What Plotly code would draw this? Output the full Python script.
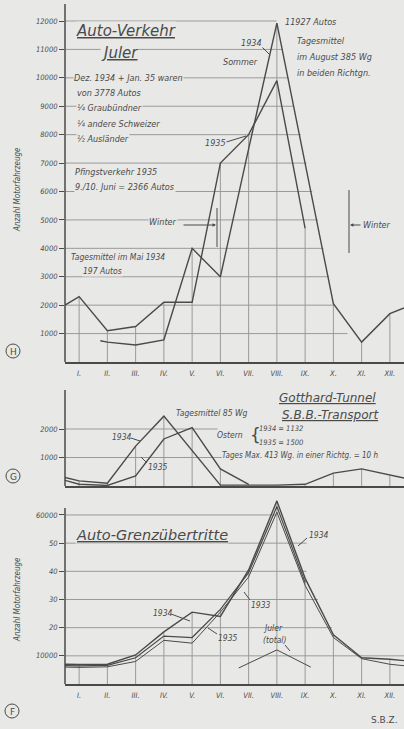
import plotly.graph_objects as go

W, H = 404, 729
BG = "#e8e8e6"
INK = "#4a4a4a"
GRID = "#9a9a9a"
FONT = "Liberation Sans Narrow, DejaVu Sans Condensed, Liberation Sans, sans-serif"
TFONT = "DejaVu Sans, sans-serif"

# ---------------- data ----------------
month_pos = list(range(1, 13))
month_labels = ["I.", "II.", "III.", "IV.", "V.", "VI.", "VII.", "VIII.", "IX.", "X.", "XI.", "XII."]

# Panel H: Auto-Verkehr Juler
h_ticks = [1000, 2000, 3000, 4000, 5000, 6000, 7000, 8000, 9000, 10000, 11000, 12000]
h_ticktext = ["1000", "2000", "3000", "4000", "5000", "6000", "7000", "8000", "9000", "10000", "11000", "12000"]
h_1935_x = [0.5, 1, 2, 3, 4, 5, 6, 7, 8, 9]
h_1935_y = [2000, 2300, 1100, 1250, 2100, 2100, 7000, 8000, 9900, 4700]
h_1934_x = [1.75, 2, 3, 4, 5, 6, 7, 8, 10, 11, 12, 12.5]
h_1934_y = [750, 700, 600, 780, 4000, 3000, 7500, 11927, 2050, 700, 1700, 1900]
h_grid_right = [10.5, 10.05, 9.85, 9.65, 9.45, 9.25, 9.05, 8.85, 8.6, 8.4, 8.2, 7.99]

# Panel G: Gotthard-Tunnel S.B.B.-Transport
g_ticks = [1000, 2000]
g_ticktext = ["1000", "2000"]
g_1934_x = [0.5, 1, 2, 3, 4, 5, 6, 7, 8, 9, 10, 11, 12, 12.5]
g_1934_y = [300, 180, 100, 1400, 2450, 1250, 30, 30, 30, 60, 450, 600, 380, 280]
g_1935_x = [0.5, 1, 2, 3, 4, 5, 6, 7]
g_1935_y = [200, 60, 20, 350, 1650, 2050, 600, 60]
g_grid_right = [6.05, 5.9]

# Panel F: Auto-Grenzübertritte
f_ticks = [10000, 20000, 30000, 40000, 50000, 60000]
f_ticktext = ["10000", "20", "30", "40", "50", "60000"]
f_1934_x = [0.5, 1, 2, 3, 4, 5, 6, 7, 8, 9, 10, 11, 12, 12.5]
f_1934_y = [7000, 6900, 7000, 10300, 18500, 25500, 24000, 40500, 65000, 37500, 17500, 9300, 8800, 8300]
f_1935_x = [0.5, 1, 2, 3, 4, 5, 6, 7, 8, 9]
f_1935_y = [6500, 6400, 6600, 9300, 17000, 16500, 26500, 39500, 63000, 36000]
f_1933_x = [0.5, 1, 2, 3, 4, 5, 6, 7, 8, 9, 10, 11, 12, 12.5]
f_1933_y = [6000, 5900, 6100, 8000, 15500, 14500, 25500, 38000, 61000, 35000, 16500, 9000, 7000, 6500]
f_juler_x = [6.65, 8, 9.2]
f_juler_y = [5700, 12100, 6000]
f_grid_right = [12.5, 9.95, 9.45, 9.05, 9.05, 8.0]

# ---------------- layout helpers ----------------
X0 = 65  # left axis pixel


def fx(px):
    return px / W


def fy(py):
    return 1 - py / H


fig = go.Figure()


def add_line(x, y, n, width=1.4, dash=None, color=INK):
    fig.add_trace(go.Scatter(x=x, y=y, xaxis="x" + n, yaxis="y" + n, mode="lines",
                             line=dict(color=color, width=width, dash=dash),
                             hoverinfo="skip", showlegend=False))


def drop_lines(series, n):
    xs, ys = [], []
    for m in month_pos:
        vals = [yv for sx, sy in series for xv, yv in zip(sx, sy) if xv == m]
        if vals:
            xs += [m, m, None]
            ys += [0, max(vals), None]
    fig.add_trace(go.Scatter(x=xs, y=ys, xaxis="x" + n, yaxis="y" + n, mode="lines",
                             line=dict(color=GRID, width=1), hoverinfo="skip", showlegend=False))


shapes = []
annotations = []


def grid(levels, rights, n):
    xr = "x" if n == "" else "x" + n
    yr = "y" if n == "" else "y" + n
    for lv, r in zip(levels, rights):
        shapes.append(dict(type="line", xref=xr, yref=yr, x0=0.5, x1=r, y0=lv, y1=lv,
                           layer="below", line=dict(color=GRID, width=1)))


def seg(x0, y0, x1, y1, width=1, color=INK):
    shapes.append(dict(type="line", xref="paper", yref="paper", x0=fx(x0), y0=fy(y0),
                       x1=fx(x1), y1=fy(y1), line=dict(color=color, width=width)))


def note(x, y, text, size=9, bg=False, family=FONT, angle=0, xanchor="left", italic=True):
    annotations.append(dict(x=fx(x), y=fy(y), xref="paper", yref="paper", text=text,
                            showarrow=False, xanchor=xanchor, yanchor="middle", textangle=angle,
                            font=dict(family=family, size=size, color=INK,
                                      style="italic" if italic else "normal"),
                            bgcolor=BG if bg else "rgba(0,0,0,0)", borderpad=0))


def arrow(x, y, x_from, size=0.7):
    annotations.append(dict(x=fx(x), y=fy(y), xref="paper", yref="paper", text="",
                            showarrow=True, ax=x_from - x, ay=0, arrowhead=2, arrowsize=size,
                            arrowwidth=1, arrowcolor=INK))


def circled(cx, cy, letter):
    r = 7
    shapes.append(dict(type="circle", xref="paper", yref="paper", x0=fx(cx - r), x1=fx(cx + r),
                       y0=fy(cy + r), y1=fy(cy - r), line=dict(color=INK, width=1)))
    note(cx, cy + 0.5, letter, size=9, family=TFONT, xanchor="center", italic=False)


# ---------------- traces ----------------
# H
drop_lines([(h_1935_x, h_1935_y), (h_1934_x, h_1934_y)], "")
add_line(h_1935_x, h_1935_y, "")
add_line(h_1934_x, h_1934_y, "")
grid(h_ticks, h_grid_right, "")

# G
drop_lines([(g_1934_x, g_1934_y), (g_1935_x, g_1935_y)], "2")
add_line(g_1934_x, g_1934_y, "2")
add_line(g_1935_x, g_1935_y, "2")
grid(g_ticks, g_grid_right, "2")

# F
drop_lines([(f_1934_x, f_1934_y), (f_1935_x, f_1935_y), (f_1933_x, f_1933_y)], "3")
add_line(f_1933_x, f_1933_y, "3", width=1.0)
add_line(f_1935_x, f_1935_y, "3", width=1.2)
add_line(f_1934_x, f_1934_y, "3", width=1.4)
add_line(f_juler_x, f_juler_y, "3", width=1.0)
grid(f_ticks, f_grid_right, "3")

# y-axis lines
seg(X0, 4, X0, 362, width=1.5)
seg(X0, 390, X0, 486, width=1.5)
seg(X0, 508, X0, 684, width=1.5)

# ---------------- annotations ----------------
# Panel H
note(75, 31, "<u>Auto-Verkehr</u>", size=15, family=TFONT, bg=True)
note(100, 53, "<u>Juler</u>", size=15, family=TFONT, bg=True)
note(73, 78, "Dez. 1934 + Jan. 35 waren", bg=True)
note(76, 93, "von 3778 Autos", bg=True)
note(76, 108, "¼ Graubündner", bg=True)
note(76, 124, "¼ andere Schweizer", bg=True)
note(76, 139, "½ Ausländer", bg=True)
note(74, 172, "Pfingstverkehr 1935", bg=True)
note(74, 187, "9./10. Juni = 2366 Autos", bg=True)
note(148, 222, "Winter", bg=True)
seg(217, 208, 217, 247)
arrow(216, 225, 182)
note(70, 257, "Tagesmittel im Mai 1934", size=8.5, bg=True)
note(82, 271, "197 Autos", size=8.5, bg=True)
note(284, 22, "11927 Autos")
note(296, 41, "Tagesmittel")
note(296, 57, "im August 385 Wg")
note(296, 73, "in beiden Richtgn.")
note(240, 43, "1934", bg=True)
seg(262, 47, 270, 55)
note(222, 62, "Sommer", bg=True)
note(204, 143, "1935", bg=True)
seg(223, 143, 246, 136)
seg(349, 190, 349, 253)
arrow(350, 225, 362)
note(362, 225, "Winter")
circled(13, 351, "H")
note(17, 190, "Anzahl Motorfahrzeuge", size=8, angle=-90, xanchor="center")

# Panel G
note(175, 413, "Tagesmittel 85 Wg", size=8.5)
note(278, 398, "<u>Gotthard-Tunnel</u>", size=12, family=TFONT)
note(281, 415, "<u>S.B.B.-Transport</u>", size=12, family=TFONT)
note(216, 435, "Ostern", size=8.5)
note(249, 435, "{", size=17, family=TFONT, italic=False)
note(258, 428, "1934 = 1132", size=7.5)
note(258, 442, "1935 = 1500", size=7.5)
note(221, 455, "Tages Max. 413 Wg. in einer Richtg. = 10 h", size=8)
note(111, 437, "1934", size=8.5)
seg(131, 438, 140, 441)
note(147, 467, "1935", size=8.5)
seg(147, 463, 141, 457)
circled(13, 476, "G")

# Panel F
note(75, 535, "<u>Auto-Grenzübertritte</u>", size=14.5, family=TFONT, bg=True)
note(152, 613, "1934", size=8.5)
seg(171, 614, 190, 621)
note(217, 638, "1935", size=8.5)
seg(217, 634, 208, 628)
note(250, 605, "1933", size=8.5)
seg(250, 600, 244, 592)
note(308, 535, "1934", size=8.5)
seg(307, 538, 298, 546)
note(262, 628, "Juler", size=8.5)
note(262, 640, "(total)", size=8.5)
seg(285, 645, 290, 651)
circled(12, 711, "F")
note(17, 600, "Anzahl Motorfahrzeuge", size=8, angle=-90, xanchor="center")
note(370, 720, "S.B.Z.", size=9, family=TFONT, italic=False)

# ---------------- axes ----------------
xdom = [fx(X0), 1.0]
tickfont = dict(family=FONT, size=7.5, color=INK, style="italic")


def xaxis(anchor, labels):
    return dict(domain=xdom, range=[0.5, 12.5], anchor=anchor, showgrid=False, zeroline=False,
                showline=True, linecolor=INK, linewidth=2,
                tickvals=month_pos, ticktext=month_labels, showticklabels=labels,
                ticks="", ticklabelstandoff=3, tickfont=tickfont, fixedrange=True)


def yaxis(anchor, dom, rng, tv, tt):
    return dict(domain=dom, range=rng, anchor=anchor, showgrid=False, zeroline=False,
                showline=False, tickvals=tv, ticktext=tt, ticks="outside", ticklen=5,
                tickcolor=INK, tickwidth=1, tickfont=tickfont, fixedrange=True)


fig.update_layout(
    width=W, height=H, margin=dict(l=0, r=0, t=0, b=0),
    paper_bgcolor=BG, plot_bgcolor=BG, showlegend=False,
    xaxis=xaxis("y", True),
    yaxis=yaxis("x", [fy(362), fy(4)], [0, 358 / 28.417 * 1000], h_ticks, h_ticktext),
    xaxis2=xaxis("y2", False),
    yaxis2=yaxis("x2", [fy(486), fy(390)], [0, 96 / 28.5 * 1000], g_ticks, g_ticktext),
    xaxis3=xaxis("y3", True),
    yaxis3=yaxis("x3", [fy(684), fy(497)], [0, 187 / 28.17 * 10000], f_ticks, f_ticktext),
    shapes=shapes, annotations=annotations,
)

fig.write_html(
    "out.html",
    config={"displayModeBar": False},
    post_script="document.body.style.margin='0px';document.body.style.overflow='hidden';"
                "document.body.style.background='" + BG + "';",
)
